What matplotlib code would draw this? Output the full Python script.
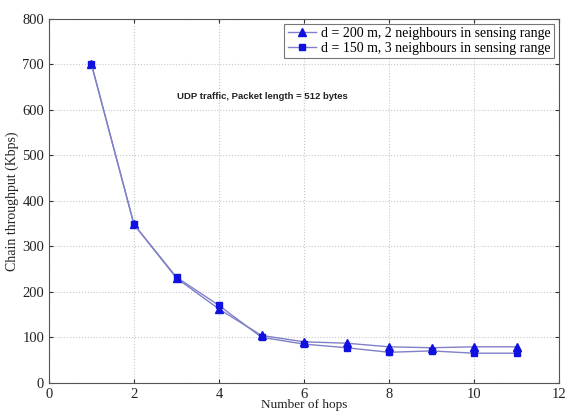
import matplotlib
matplotlib.use("Agg")
import matplotlib.pyplot as plt

hops = [1, 2, 3, 4, 5, 6, 7, 8, 9, 10, 11]
thr_d200 = [700, 348, 230, 162, 104, 90, 87, 79, 77, 79, 79]
thr_d150 = [700, 348, 232, 170, 100, 85, 77, 67, 70, 65, 65]
label_d200 = "d = 200 m, 2 neighbours in sensing range"
label_d150 = "d = 150 m, 3 neighbours in sensing range"
note = "UDP traffic, Packet length = 512 bytes"

serif = ["Liberation Serif", "DejaVu Serif"]

fig = plt.figure(figsize=(5.67, 4.12), dpi=100)
ax = fig.add_axes([0.0864, 0.071, 0.8996, 0.883])

line_color = "#8080c8"
mark_color = "#1010e0"
ax.plot(hops, thr_d200, color=line_color, lw=1.0, marker="^", ms=5.5,
        mfc=mark_color, mec=mark_color, label=label_d200)
ax.plot(hops, thr_d150, color=line_color, lw=1.0, marker="s", ms=5,
        mfc=mark_color, mec=mark_color, label=label_d150)

ax.set_xlim(0, 12)
ax.set_ylim(0, 800)
ax.set_xticks(range(0, 13, 2))
ax.set_yticks(range(0, 801, 100))
ax.grid(True, ls=":", color="#c8c8c8", lw=0.8)
ax.tick_params(direction="in", top=True, right=True, length=3, labelsize=10.5,
               colors="#333333", labelcolor="#222222")
for lab in ax.get_xticklabels() + ax.get_yticklabels():
    lab.set_family(serif)
for sp in ax.spines.values():
    sp.set_color("#555555")
    sp.set_linewidth(0.8)

ax.set_xlabel("Number of hops", family=serif, fontsize=9.5, color="#222222", labelpad=-1)
ax.set_ylabel("Chain throughput (Kbps)", family=serif, fontsize=10, color="#222222", labelpad=2)

ax.text(3.0, 629, note, fontsize=6.8, fontweight="bold", color="#222222",
        family=["Liberation Sans", "DejaVu Sans"], va="center", ha="left")

leg = ax.legend(loc="upper right", prop={"family": serif, "size": 10},
                frameon=True, fancybox=False, edgecolor="#555555",
                borderpad=0.25, labelspacing=0.1, handlelength=2.0,
                handletextpad=0.4, borderaxespad=0.35)
leg.get_frame().set_linewidth(0.8)

fig.savefig("out.png", dpi=100)
